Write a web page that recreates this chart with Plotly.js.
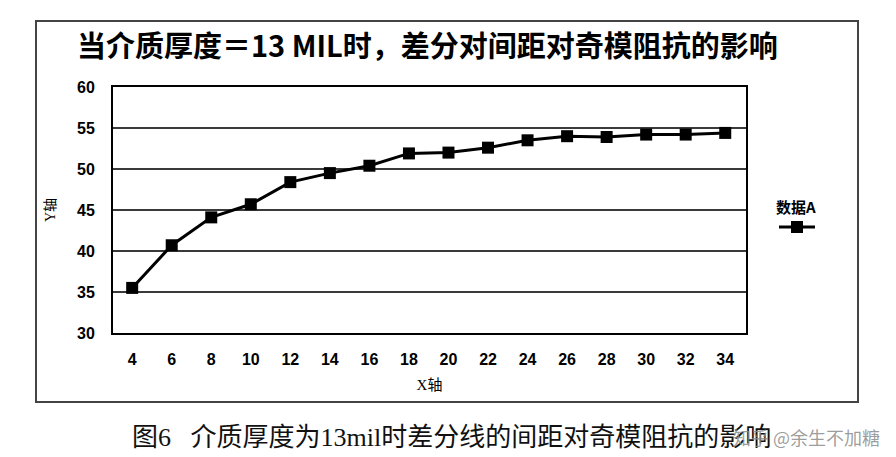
<!DOCTYPE html>
<html>
<head>
<meta charset="utf-8">
<script src="https://cdn.plot.ly/plotly-3.0.1.min.js"></script>
<style>
html,body{margin:0;padding:0;background:#fff;}
#chart{width:896px;height:457px;}
</style>
</head>
<body>
<div id="chart"></div>
<script>
// ---- data ----
const xSpacing = [4, 6, 8, 10, 12, 14, 16, 18, 20, 22, 24, 26, 28, 30, 32, 34];
const oddImpedance = [35.5, 40.7, 44.1, 45.7, 48.4, 49.5, 50.4, 51.9, 52.0, 52.6, 53.5, 54.0, 53.9, 54.2, 54.2, 54.4];
const seriesName = '数据A';
const yTicks = [30, 35, 40, 45, 50, 55, 60];
const chartTitle = '当介质厚度＝13 MIL时，差分对间距对奇模阻抗的影响';
const xTitle = 'X轴';
const yTitle = 'Y轴';
const caption = '图6&nbsp;&nbsp;&nbsp;介质厚度为13mil时差分线的间距对奇模阻抗的影响';
const watermark = '知乎 @余生不加糖';

// ---- layout geometry (pixels) ----
const W = 896, H = 457;
const L = 113, R = 746, T = 87, B = 333;
const pw = R - L, ph = B - T;
const px = x => (x - L) / pw;
const py = y => (B - y) / ph;

const trace = {
  x: xSpacing,
  y: oddImpedance,
  type: 'scatter',
  mode: 'lines+markers',
  name: ' ',
  line: {color: '#000', width: 3},
  marker: {symbol: 'square', size: 12, color: '#000'},
  showlegend: true
};

const tickFont = {family: 'Liberation Sans, Arial, sans-serif', size: 16, color: '#000', weight: 'bold'};

const layout = {
  width: W, height: H,
  margin: {l: L, r: W - R, t: T, b: H - B, pad: 0},
  paper_bgcolor: '#fff',
  plot_bgcolor: '#fff',
  title: {
    text: '<b>' + chartTitle + '</b>',
    font: {family: 'Noto Sans CJK SC, sans-serif', size: 29, color: '#000'},
    xref: 'container', yref: 'container',
    x: 77 / W, xanchor: 'left',
    y: 1 - 47 / H, yanchor: 'middle'
  },
  xaxis: {
    range: [3.03, 35.05],
    tickmode: 'array',
    tickvals: xSpacing,
    ticktext: xSpacing.map(String),
    showgrid: false,
    zeroline: false,
    showline: true, linecolor: '#000', linewidth: 2, mirror: true,
    ticks: '', ticklabelstandoff: 11,
    tickfont: tickFont,
    title: {text: xTitle, standoff: 12, font: {family: 'Liberation Serif, Noto Sans CJK SC, serif', size: 15, color: '#000'}},
    fixedrange: true
  },
  yaxis: {
    range: [30, 60],
    tickmode: 'array',
    tickvals: yTicks,
    ticktext: yTicks.map(String),
    showgrid: true, gridcolor: '#3a3a3a', gridwidth: 1.5,
    zeroline: false,
    showline: true, linecolor: '#000', linewidth: 2, mirror: true,
    ticks: '', ticklabelstandoff: 13,
    tickfont: tickFont,
    title: {text: yTitle, standoff: 18, font: {family: 'Liberation Serif, Noto Sans CJK SC, serif', size: 14, color: '#000'}},
    fixedrange: true
  },
  legend: {
    x: px(774), y: py(193), xanchor: 'left', yanchor: 'top',
    bgcolor: 'rgba(0,0,0,0)',
    borderwidth: 0,
    title: {text: '<b>' + seriesName + '</b>', side: 'top', font: {family: 'Noto Sans CJK SC, sans-serif', size: 15, color: '#000'}},
    font: {size: 12},
    itemwidth: 36,
    tracegroupgap: 0
  },
  shapes: [
    {type: 'rect', xref: 'paper', yref: 'paper',
     x0: px(36), x1: px(858), y0: py(402), y1: py(21),
     line: {color: '#444', width: 2}, fillcolor: 'rgba(0,0,0,0)', layer: 'below'}
  ],
  annotations: [
    {text: caption, xref: 'paper', yref: 'paper', x: px(130), y: py(437),
     xanchor: 'left', yanchor: 'middle', showarrow: false,
     font: {family: 'Liberation Serif, Noto Sans CJK SC, serif', size: 26, color: '#111'}},
    {text: watermark, xref: 'paper', yref: 'paper', x: px(882), y: py(437),
     xanchor: 'right', yanchor: 'middle', showarrow: false,
     font: {family: 'Noto Sans CJK SC, sans-serif', size: 18, color: 'rgba(140,140,140,0.85)'}}
  ]
};

Plotly.newPlot('chart', [trace], layout, {displayModeBar: false, staticPlot: true});
</script>
</body>
</html>
